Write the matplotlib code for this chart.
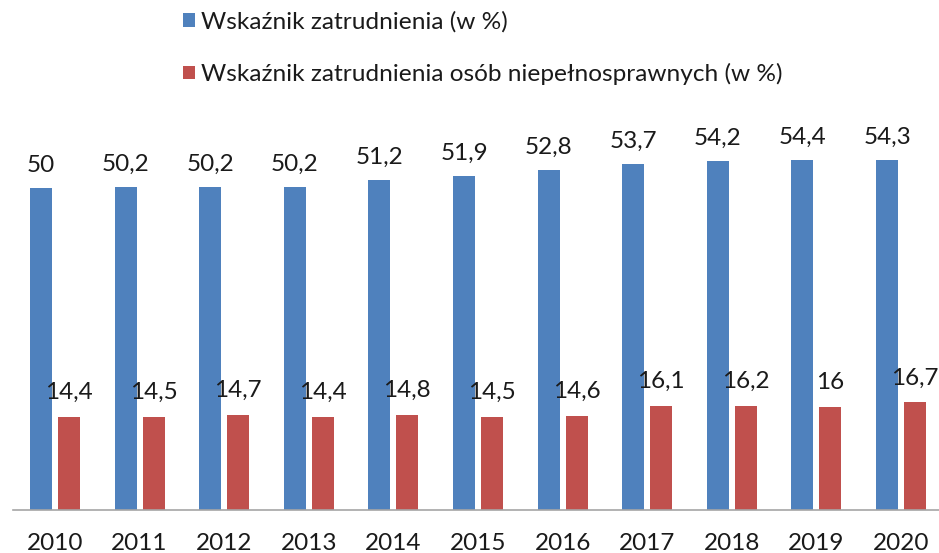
import matplotlib
matplotlib.use("Agg")
import matplotlib.pyplot as plt
import numpy as np

years = ["2010", "2011", "2012", "2013", "2014", "2015", "2016", "2017", "2018", "2019", "2020"]
employment = [50, 50.2, 50.2, 50.2, 51.2, 51.9, 52.8, 53.7, 54.2, 54.4, 54.3]
employment_disabled = [14.4, 14.5, 14.7, 14.4, 14.8, 14.5, 14.6, 16.1, 16.2, 16, 16.7]
series_names = ["Wskaźnik zatrudnienia (w %)",
                "Wskaźnik zatrudnienia osób niepełnosprawnych (w %)"]

plt.rcParams['font.family'] = ['Lato', 'DejaVu Sans']

W, H = 939, 553
fig = plt.figure(figsize=(W / 100, H / 100), dpi=100)

left_px = 12.7
width_px = 930.6
bottom_px = 43
ymax = 60
height_px = ymax * 6.44
ax = fig.add_axes([left_px / W, bottom_px / H, width_px / W, height_px / H])

x = np.arange(len(years))
bw = 0.26
off = 0.165
blue = "#4F81BD"
red = "#C0504D"
b1 = ax.bar(x - off, employment, bw, color=blue, label=series_names[0])
b2 = ax.bar(x + off, employment_disabled, bw, color=red, label=series_names[1])

fs = 17.5
for xi, v in zip(x, employment):
    ax.annotate(f"{v:g}".replace(".", ","), (xi - off, v), xytext=(0, 16),
                textcoords="offset pixels", ha="center", va="baseline",
                fontsize=fs, color="#1a1a1a")
for xi, v in zip(x, employment_disabled):
    ax.annotate(f"{v:g}".replace(".", ","), (xi + off, v), xytext=(0, 18),
                textcoords="offset pixels", ha="center", va="baseline",
                fontsize=fs, color="#1a1a1a")

ax.set_xlim(-0.5, 10.5)
ax.set_ylim(0, ymax)
ax.set_xticks(x)
ax.set_xticklabels(years, fontsize=fs, color="#1a1a1a")
ax.tick_params(axis="x", length=0, pad=16.5)
ax.set_yticks([])
for s in ["top", "right", "left"]:
    ax.spines[s].set_visible(False)
ax.spines["bottom"].set_color("#A6A6A6")
ax.spines["bottom"].set_linewidth(1.2)

fig.legend(handles=[b1, b2], labels=series_names, loc="upper left",
           bbox_to_anchor=(183 / W, 1 - 11 / H), frameon=False,
           fontsize=17.6, borderpad=0, borderaxespad=0,
           handlelength=0.5, handleheight=0.5, handletextpad=0.25,
           labelspacing=1.25, labelcolor="#1a1a1a")

fig.savefig("out.png", dpi=100)
